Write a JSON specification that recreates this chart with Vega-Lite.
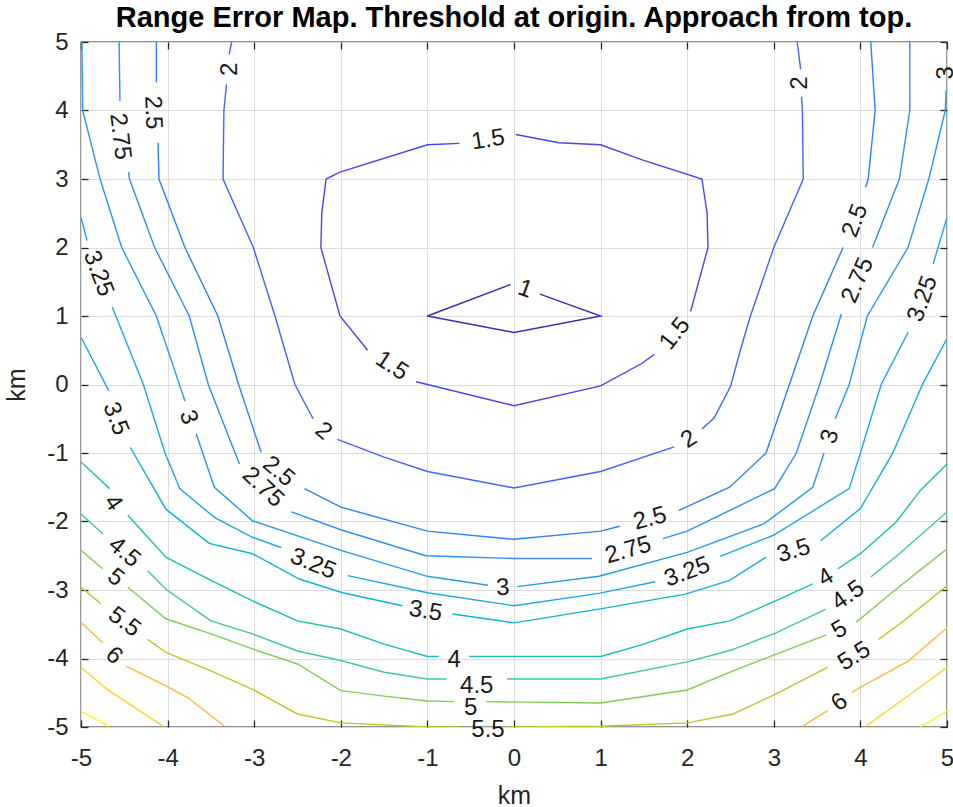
{
  "$schema": "https://vega.github.io/schema/vega-lite/v6.json",
  "width": 866,
  "height": 685,
  "autosize": {"type": "none"},
  "padding": {"left": 81, "top": 42, "right": 6, "bottom": 80},
  "background": "white",
  "title": {"text": "Range Error Map. Threshold at origin. Approach from top.", "font": "Liberation Sans", "fontSize": 29, "fontWeight": "bold", "color": "#000000", "anchor": "middle", "baseline": "alphabetic", "offset": -26},
  "config": {
    "view": {"stroke": "#262626", "strokeWidth": 1.3},
    "axis": {"domain": false, "gridColor": "#DCDCDC", "gridWidth": 1, "tickColor": "#262626", "tickWidth": 1.3, "tickSize": -7, "labelFont": "Liberation Sans", "labelFontSize": 24, "labelColor": "#262626", "titleFont": "Liberation Sans", "titleFontSize": 25, "titleFontWeight": "normal", "titleColor": "#262626", "labelFlush": false, "labelOverlap": false}
  },
  "datasets": {
    "lines": [
      {"c":"1","s":"1a","i":0,"x":-1,"y":1},{"c":"1","s":"1a","i":1,"x":-0.04,"y":1.46},
      {"c":"1","s":"1b","i":0,"x":0.3,"y":1.32},{"c":"1","s":"1b","i":1,"x":1,"y":1},{"c":"1","s":"1b","i":2,"x":0,"y":0.76},{"c":"1","s":"1b","i":3,"x":-1,"y":1},

      {"c":"1.5","s":"15a","i":0,"x":-0.63,"y":3.52},{"c":"1.5","s":"15a","i":1,"x":-1,"y":3.5},{"c":"1.5","s":"15a","i":2,"x":-2.01,"y":3.1},{"c":"1.5","s":"15a","i":3,"x":-2.17,"y":3},{"c":"1.5","s":"15a","i":4,"x":-2.22,"y":2.5},{"c":"1.5","s":"15a","i":5,"x":-2.23,"y":2},{"c":"1.5","s":"15a","i":6,"x":-2.01,"y":1},{"c":"1.5","s":"15a","i":7,"x":-1.69,"y":0.5},
      {"c":"1.5","s":"15b","i":0,"x":-1.13,"y":0.04},{"c":"1.5","s":"15b","i":1,"x":-1,"y":0},{"c":"1.5","s":"15b","i":2,"x":0,"y":-0.31},{"c":"1.5","s":"15b","i":3,"x":1,"y":-0.02},{"c":"1.5","s":"15b","i":4,"x":1.48,"y":0.31},{"c":"1.5","s":"15b","i":5,"x":1.62,"y":0.44},
      {"c":"1.5","s":"15c","i":0,"x":2.04,"y":1.07},{"c":"1.5","s":"15c","i":1,"x":2.24,"y":2},{"c":"1.5","s":"15c","i":2,"x":2.23,"y":2.5},{"c":"1.5","s":"15c","i":3,"x":2.17,"y":3},{"c":"1.5","s":"15c","i":4,"x":1.48,"y":3.28},{"c":"1.5","s":"15c","i":5,"x":1,"y":3.5},{"c":"1.5","s":"15c","i":6,"x":0.52,"y":3.53},{"c":"1.5","s":"15c","i":7,"x":0.02,"y":3.65},

      {"c":"2","s":"2a","i":0,"x":-3.26,"y":5},{"c":"2","s":"2a","i":1,"x":-3.29,"y":4.82},
      {"c":"2","s":"2b","i":0,"x":-3.32,"y":4.38},{"c":"2","s":"2b","i":1,"x":-3.35,"y":4},{"c":"2","s":"2b","i":2,"x":-3.36,"y":3},{"c":"2","s":"2b","i":3,"x":-3.01,"y":2},{"c":"2","s":"2b","i":4,"x":-2.76,"y":1},{"c":"2","s":"2b","i":5,"x":-2.53,"y":0},{"c":"2","s":"2b","i":6,"x":-2.32,"y":-0.5},
      {"c":"2","s":"2c","i":0,"x":-2.04,"y":-0.8},{"c":"2","s":"2c","i":1,"x":-1.5,"y":-1.06},{"c":"2","s":"2c","i":2,"x":-1,"y":-1.27},{"c":"2","s":"2c","i":3,"x":0,"y":-1.51},{"c":"2","s":"2c","i":4,"x":1,"y":-1.27},{"c":"2","s":"2c","i":5,"x":1.85,"y":-0.91},
      {"c":"2","s":"2d","i":0,"x":2.17,"y":-0.65},{"c":"2","s":"2d","i":1,"x":2.31,"y":-0.49},{"c":"2","s":"2d","i":2,"x":2.5,"y":-0.03},{"c":"2","s":"2d","i":3,"x":2.62,"y":0.53},{"c":"2","s":"2d","i":4,"x":2.73,"y":1},{"c":"2","s":"2d","i":5,"x":3,"y":2},{"c":"2","s":"2d","i":6,"x":3.34,"y":3},{"c":"2","s":"2d","i":7,"x":3.33,"y":4},{"c":"2","s":"2d","i":8,"x":3.32,"y":4.2},
      {"c":"2","s":"2e","i":0,"x":3.31,"y":4.6},{"c":"2","s":"2e","i":1,"x":3.27,"y":5},

      {"c":"2.5","s":"25a","i":0,"x":-4.13,"y":5},{"c":"2.5","s":"25a","i":1,"x":-4.13,"y":4.41},
      {"c":"2.5","s":"25b","i":0,"x":-4.11,"y":3.53},{"c":"2.5","s":"25b","i":1,"x":-4.1,"y":3},{"c":"2.5","s":"25b","i":2,"x":-3.8,"y":2},{"c":"2.5","s":"25b","i":3,"x":-3.42,"y":1},{"c":"2.5","s":"25b","i":4,"x":-3.18,"y":0},{"c":"2.5","s":"25b","i":5,"x":-2.92,"y":-0.99},
      {"c":"2.5","s":"25c","i":0,"x":-2.42,"y":-1.52},{"c":"2.5","s":"25c","i":1,"x":-2,"y":-1.79},{"c":"2.5","s":"25c","i":2,"x":-1,"y":-2.14},{"c":"2.5","s":"25c","i":3,"x":0,"y":-2.26},{"c":"2.5","s":"25c","i":4,"x":1,"y":-2.14},{"c":"2.5","s":"25c","i":5,"x":1.22,"y":-2.07},
      {"c":"2.5","s":"25d","i":0,"x":1.9,"y":-1.84},{"c":"2.5","s":"25d","i":1,"x":2.49,"y":-1.5},{"c":"2.5","s":"25d","i":2,"x":2.91,"y":-1},{"c":"2.5","s":"25d","i":3,"x":3.18,"y":0},{"c":"2.5","s":"25d","i":4,"x":3.45,"y":1},{"c":"2.5","s":"25d","i":5,"x":3.8,"y":2},
      {"c":"2.5","s":"25e","i":0,"x":4.06,"y":2.88},{"c":"2.5","s":"25e","i":1,"x":4.09,"y":3},{"c":"2.5","s":"25e","i":2,"x":4.17,"y":4},{"c":"2.5","s":"25e","i":3,"x":4.12,"y":5},

      {"c":"2.75","s":"275a","i":0,"x":-4.56,"y":5},{"c":"2.75","s":"275a","i":1,"x":-4.55,"y":4.14},
      {"c":"2.75","s":"275b","i":0,"x":-4.45,"y":3.1},{"c":"2.75","s":"275b","i":1,"x":-4.44,"y":3},{"c":"2.75","s":"275b","i":2,"x":-4.15,"y":2},{"c":"2.75","s":"275b","i":3,"x":-3.75,"y":1},{"c":"2.75","s":"275b","i":4,"x":-3.53,"y":0},{"c":"2.75","s":"275b","i":5,"x":-3.28,"y":-0.81},{"c":"2.75","s":"275b","i":6,"x":-3.17,"y":-1.16},
      {"c":"2.75","s":"275c","i":0,"x":-2.57,"y":-1.86},{"c":"2.75","s":"275c","i":1,"x":-2,"y":-2.12},{"c":"2.75","s":"275c","i":2,"x":-1.02,"y":-2.5},{"c":"2.75","s":"275c","i":3,"x":0,"y":-2.54},{"c":"2.75","s":"275c","i":4,"x":0.9,"y":-2.54},
      {"c":"2.75","s":"275d","i":0,"x":1.72,"y":-2.25},{"c":"2.75","s":"275d","i":1,"x":2,"y":-2.14},{"c":"2.75","s":"275d","i":2,"x":3.01,"y":-1.52},{"c":"2.75","s":"275d","i":3,"x":3.26,"y":-1},{"c":"2.75","s":"275d","i":4,"x":3.53,"y":0},{"c":"2.75","s":"275d","i":5,"x":3.78,"y":1.03},
      {"c":"2.75","s":"275e","i":0,"x":4.14,"y":2},{"c":"2.75","s":"275e","i":1,"x":4.45,"y":3},{"c":"2.75","s":"275e","i":2,"x":4.57,"y":4},{"c":"2.75","s":"275e","i":3,"x":4.57,"y":5},

      {"c":"3","s":"3a","i":0,"x":-4.99,"y":5},{"c":"3","s":"3a","i":1,"x":-4.98,"y":4},{"c":"3","s":"3a","i":2,"x":-4.78,"y":3},{"c":"3","s":"3a","i":3,"x":-4.53,"y":2},{"c":"3","s":"3a","i":4,"x":-4.13,"y":1},{"c":"3","s":"3a","i":5,"x":-3.93,"y":0.25},{"c":"3","s":"3a","i":6,"x":-3.8,"y":-0.24},
      {"c":"3","s":"3b","i":0,"x":-3.67,"y":-0.72},{"c":"3","s":"3b","i":1,"x":-3.46,"y":-1.5},{"c":"3","s":"3b","i":2,"x":-3.02,"y":-1.99},{"c":"3","s":"3b","i":3,"x":-1.98,"y":-2.43},{"c":"3","s":"3b","i":4,"x":-1,"y":-2.8},{"c":"3","s":"3b","i":5,"x":-0.3,"y":-2.93},
      {"c":"3","s":"3c","i":0,"x":0.04,"y":-2.95},{"c":"3","s":"3c","i":1,"x":0.98,"y":-2.8},{"c":"3","s":"3c","i":2,"x":2,"y":-2.45},{"c":"3","s":"3c","i":3,"x":2.89,"y":-2.03},{"c":"3","s":"3c","i":4,"x":3.45,"y":-1.5},{"c":"3","s":"3c","i":5,"x":3.58,"y":-1},
      {"c":"3","s":"3d","i":0,"x":3.71,"y":-0.5},{"c":"3","s":"3d","i":1,"x":3.87,"y":0},{"c":"3","s":"3d","i":2,"x":4.08,"y":1},{"c":"3","s":"3d","i":3,"x":4.55,"y":2},{"c":"3","s":"3d","i":4,"x":4.79,"y":3},{"c":"3","s":"3d","i":5,"x":4.98,"y":4},{"c":"3","s":"3d","i":6,"x":4.99,"y":4.3},

      {"c":"3.25","s":"325a","i":0,"x":-5,"y":2.44},{"c":"3.25","s":"325a","i":1,"x":-4.93,"y":2.1},
      {"c":"3.25","s":"325b","i":0,"x":-4.64,"y":1.13},{"c":"3.25","s":"325b","i":1,"x":-4.28,"y":0},{"c":"3.25","s":"325b","i":2,"x":-4.03,"y":-1},{"c":"3.25","s":"325b","i":3,"x":-3.86,"y":-1.52},{"c":"3.25","s":"325b","i":4,"x":-3.46,"y":-1.94},{"c":"3.25","s":"325b","i":5,"x":-3.02,"y":-2.23},{"c":"3.25","s":"325b","i":6,"x":-2.69,"y":-2.38},
      {"c":"3.25","s":"325c","i":0,"x":-1.92,"y":-2.79},{"c":"3.25","s":"325c","i":1,"x":-1,"y":-3.04},{"c":"3.25","s":"325c","i":2,"x":0,"y":-3.23},{"c":"3.25","s":"325c","i":3,"x":0.98,"y":-3.05},{"c":"3.25","s":"325c","i":4,"x":1.63,"y":-2.88},
      {"c":"3.25","s":"325d","i":0,"x":2.38,"y":-2.51},{"c":"3.25","s":"325d","i":1,"x":3,"y":-2.2},{"c":"3.25","s":"325d","i":2,"x":3.87,"y":-1.52},{"c":"3.25","s":"325d","i":3,"x":4,"y":-1},{"c":"3.25","s":"325d","i":4,"x":4.24,"y":0},{"c":"3.25","s":"325d","i":5,"x":4.55,"y":0.76},
      {"c":"3.25","s":"325e","i":0,"x":4.84,"y":1.76},{"c":"3.25","s":"325e","i":1,"x":5,"y":2.44},

      {"c":"3.5","s":"35a","i":0,"x":-5,"y":0.69},{"c":"3.5","s":"35a","i":1,"x":-4.68,"y":-0.09},
      {"c":"3.5","s":"35b","i":0,"x":-4.43,"y":-0.92},{"c":"3.5","s":"35b","i":1,"x":-4.02,"y":-1.82},{"c":"3.5","s":"35b","i":2,"x":-3.52,"y":-2.32},{"c":"3.5","s":"35b","i":3,"x":-3.02,"y":-2.47},{"c":"3.5","s":"35b","i":4,"x":-2.48,"y":-2.84},{"c":"3.5","s":"35b","i":5,"x":-1.98,"y":-3.04},{"c":"3.5","s":"35b","i":6,"x":-1.29,"y":-3.23},
      {"c":"3.5","s":"35c","i":0,"x":-0.71,"y":-3.35},{"c":"3.5","s":"35c","i":1,"x":0,"y":-3.48},{"c":"3.5","s":"35c","i":2,"x":0.98,"y":-3.28},{"c":"3.5","s":"35c","i":3,"x":1.98,"y":-3.06},{"c":"3.5","s":"35c","i":4,"x":2.49,"y":-2.86},{"c":"3.5","s":"35c","i":5,"x":2.91,"y":-2.52},
      {"c":"3.5","s":"35d","i":0,"x":3.54,"y":-2.28},{"c":"3.5","s":"35d","i":1,"x":4,"y":-1.81},{"c":"3.5","s":"35d","i":2,"x":4.37,"y":-1.01},{"c":"3.5","s":"35d","i":3,"x":4.72,"y":0.01},{"c":"3.5","s":"35d","i":4,"x":5,"y":0.67},

      {"c":"4","s":"4a","i":0,"x":-5,"y":-1.13},{"c":"4","s":"4a","i":1,"x":-4.67,"y":-1.52},
      {"c":"4","s":"4b","i":0,"x":-4.46,"y":-1.91},{"c":"4","s":"4b","i":1,"x":-4.02,"y":-2.52},{"c":"4","s":"4b","i":2,"x":-3.5,"y":-2.86},{"c":"4","s":"4b","i":3,"x":-3.02,"y":-3.16},{"c":"4","s":"4b","i":4,"x":-2.5,"y":-3.45},{"c":"4","s":"4b","i":5,"x":-2,"y":-3.57},{"c":"4","s":"4b","i":6,"x":-1.5,"y":-3.79},{"c":"4","s":"4b","i":7,"x":-1,"y":-3.97},{"c":"4","s":"4b","i":8,"x":-0.87,"y":-3.97},
      {"c":"4","s":"4c","i":0,"x":-0.52,"y":-3.97},{"c":"4","s":"4c","i":1,"x":0,"y":-3.97},{"c":"4","s":"4c","i":2,"x":1,"y":-3.97},{"c":"4","s":"4c","i":3,"x":1.5,"y":-3.79},{"c":"4","s":"4c","i":4,"x":2,"y":-3.57},{"c":"4","s":"4c","i":5,"x":2.49,"y":-3.45},{"c":"4","s":"4c","i":6,"x":3.02,"y":-3.16},{"c":"4","s":"4c","i":7,"x":3.45,"y":-2.91},
      {"c":"4","s":"4d","i":0,"x":3.74,"y":-2.69},{"c":"4","s":"4d","i":1,"x":4,"y":-2.47},{"c":"4","s":"4d","i":2,"x":4.41,"y":-2.01},{"c":"4","s":"4d","i":3,"x":4.69,"y":-1.55},{"c":"4","s":"4d","i":4,"x":5,"y":-1.16},

      {"c":"4.5","s":"45a","i":0,"x":-5,"y":-1.89},{"c":"4.5","s":"45a","i":1,"x":-4.75,"y":-2.18},
      {"c":"4.5","s":"45b","i":0,"x":-4.23,"y":-2.72},{"c":"4.5","s":"45b","i":1,"x":-4.02,"y":-2.99},{"c":"4.5","s":"45b","i":2,"x":-3.5,"y":-3.45},{"c":"4.5","s":"45b","i":3,"x":-3.02,"y":-3.64},{"c":"4.5","s":"45b","i":4,"x":-2.5,"y":-3.89},{"c":"4.5","s":"45b","i":5,"x":-2,"y":-4.03},{"c":"4.5","s":"45b","i":6,"x":-1.5,"y":-4.2},{"c":"4.5","s":"45b","i":7,"x":-1,"y":-4.3},{"c":"4.5","s":"45b","i":8,"x":-0.78,"y":-4.3},
      {"c":"4.5","s":"45c","i":0,"x":-0.08,"y":-4.3},{"c":"4.5","s":"45c","i":1,"x":1,"y":-4.3},{"c":"4.5","s":"45c","i":2,"x":2,"y":-4.05},{"c":"4.5","s":"45c","i":3,"x":2.5,"y":-3.88},{"c":"4.5","s":"45c","i":4,"x":3.02,"y":-3.63},{"c":"4.5","s":"45c","i":5,"x":3.6,"y":-3.28},
      {"c":"4.5","s":"45d","i":0,"x":4.12,"y":-2.81},{"c":"4.5","s":"45d","i":1,"x":4.45,"y":-2.47},{"c":"4.5","s":"45d","i":2,"x":5,"y":-1.86},

      {"c":"5","s":"5a","i":0,"x":-5,"y":-2.42},{"c":"5","s":"5a","i":1,"x":-4.75,"y":-2.69},
      {"c":"5","s":"5b","i":0,"x":-4.46,"y":-2.96},{"c":"5","s":"5b","i":1,"x":-4.02,"y":-3.42},{"c":"5","s":"5b","i":2,"x":-3.5,"y":-3.64},{"c":"5","s":"5b","i":3,"x":-3.02,"y":-3.86},{"c":"5","s":"5b","i":4,"x":-2.5,"y":-4.08},{"c":"5","s":"5b","i":5,"x":-2,"y":-4.47},{"c":"5","s":"5b","i":6,"x":-1.5,"y":-4.55},{"c":"5","s":"5b","i":7,"x":-1,"y":-4.62},{"c":"5","s":"5b","i":8,"x":-0.69,"y":-4.63},
      {"c":"5","s":"5c","i":0,"x":-0.32,"y":-4.63},{"c":"5","s":"5c","i":1,"x":1,"y":-4.65},{"c":"5","s":"5c","i":2,"x":2,"y":-4.46},{"c":"5","s":"5c","i":3,"x":2.53,"y":-4.18},{"c":"5","s":"5c","i":4,"x":3.02,"y":-3.94},{"c":"5","s":"5c","i":5,"x":3.6,"y":-3.66},
      {"c":"5","s":"5d","i":0,"x":3.95,"y":-3.47},{"c":"5","s":"5d","i":1,"x":4.44,"y":-2.96},{"c":"5","s":"5d","i":2,"x":5,"y":-2.4},

      {"c":"5.5","s":"55a","i":0,"x":-5,"y":-2.96},{"c":"5.5","s":"55a","i":1,"x":-4.77,"y":-3.2},
      {"c":"5.5","s":"55b","i":0,"x":-4.23,"y":-3.72},{"c":"5.5","s":"55b","i":1,"x":-4.02,"y":-3.91},{"c":"5.5","s":"55b","i":2,"x":-3.5,"y":-4.18},{"c":"5.5","s":"55b","i":3,"x":-3.02,"y":-4.45},{"c":"5.5","s":"55b","i":4,"x":-2.5,"y":-4.81},{"c":"5.5","s":"55b","i":5,"x":-2,"y":-4.94},{"c":"5.5","s":"55b","i":6,"x":-1,"y":-5},{"c":"5.5","s":"55b","i":7,"x":-0.62,"y":-5},
      {"c":"5.5","s":"55c","i":0,"x":-0.1,"y":-5},{"c":"5.5","s":"55c","i":1,"x":1,"y":-4.99},{"c":"5.5","s":"55c","i":2,"x":2,"y":-4.94},{"c":"5.5","s":"55c","i":3,"x":2.53,"y":-4.81},{"c":"5.5","s":"55c","i":4,"x":3.02,"y":-4.52},{"c":"5.5","s":"55c","i":5,"x":3.62,"y":-4.13},
      {"c":"5.5","s":"55d","i":0,"x":4.21,"y":-3.72},{"c":"5.5","s":"55d","i":1,"x":4.48,"y":-3.47},{"c":"5.5","s":"55d","i":2,"x":5,"y":-2.94},

      {"c":"6","s":"6a","i":0,"x":-5,"y":-3.47},{"c":"6","s":"6a","i":1,"x":-4.75,"y":-3.77},
      {"c":"6","s":"6b","i":0,"x":-4.48,"y":-4.11},{"c":"6","s":"6b","i":1,"x":-4.02,"y":-4.4},{"c":"6","s":"6b","i":2,"x":-3.77,"y":-4.57},{"c":"6","s":"6b","i":3,"x":-3.34,"y":-4.99},
      {"c":"6","s":"6c","i":0,"x":3.33,"y":-4.99},{"c":"6","s":"6c","i":1,"x":3.62,"y":-4.76},
      {"c":"6","s":"6d","i":0,"x":3.9,"y":-4.5},{"c":"6","s":"6d","i":1,"x":4,"y":-4.42},{"c":"6","s":"6d","i":2,"x":4.56,"y":-4.03},{"c":"6","s":"6d","i":3,"x":5,"y":-3.55},

      {"c":"6.5","s":"65a","i":0,"x":-5,"y":-4.13},{"c":"6.5","s":"65a","i":1,"x":-4.7,"y":-4.45},{"c":"6.5","s":"65a","i":2,"x":-4.05,"y":-4.99},
      {"c":"6.5","s":"65b","i":0,"x":4.06,"y":-4.99},{"c":"6.5","s":"65b","i":1,"x":4.6,"y":-4.5},{"c":"6.5","s":"65b","i":2,"x":5,"y":-4.13},

      {"c":"7","s":"7a","i":0,"x":-5,"y":-4.77},{"c":"7","s":"7a","i":1,"x":-4.68,"y":-4.99},
      {"c":"7","s":"7b","i":0,"x":4.69,"y":-5},{"c":"7","s":"7b","i":1,"x":5,"y":-4.77}
    ],
    "labels": [
      {"t":"1","x":0.13,"y":1.39,"a":20},
      {"t":"1.5","x":-0.3,"y":3.57,"a":-9},
      {"t":"1.5","x":-1.41,"y":0.27,"a":33},
      {"t":"1.5","x":1.86,"y":0.74,"a":-52},
      {"t":"2","x":-3.28,"y":4.6,"a":-90},
      {"t":"2","x":-2.2,"y":-0.68,"a":40},
      {"t":"2","x":2.02,"y":-0.8,"a":-33},
      {"t":"2","x":3.3,"y":4.4,"a":-90},
      {"t":"2.5","x":-4.17,"y":3.97,"a":88},
      {"t":"2.5","x":-2.72,"y":-1.27,"a":40},
      {"t":"2.5","x":1.57,"y":-1.96,"a":-15},
      {"t":"2.5","x":3.94,"y":2.39,"a":-69},
      {"t":"2.75","x":-4.55,"y":3.62,"a":83},
      {"t":"2.75","x":-2.9,"y":-1.5,"a":43},
      {"t":"2.75","x":1.32,"y":-2.42,"a":-16},
      {"t":"2.75","x":3.97,"y":1.52,"a":-66},
      {"t":"3","x":-3.76,"y":-0.48,"a":71},
      {"t":"3","x":-0.13,"y":-2.97,"a":-3},
      {"t":"3","x":3.65,"y":-0.76,"a":-72},
      {"t":"3","x":4.99,"y":4.55,"a":-90},
      {"t":"3.25","x":-4.8,"y":1.62,"a":69},
      {"t":"3.25","x":-2.32,"y":-2.62,"a":22},
      {"t":"3.25","x":2.0,"y":-2.74,"a":-20},
      {"t":"3.25","x":4.72,"y":1.25,"a":-70},
      {"t":"3.5","x":-4.6,"y":-0.5,"a":69},
      {"t":"3.5","x":-1.02,"y":-3.31,"a":9},
      {"t":"3.5","x":3.23,"y":-2.43,"a":-17},
      {"t":"4","x":-4.63,"y":-1.73,"a":55},
      {"t":"4","x":-0.69,"y":-4.02,"a":0},
      {"t":"4","x":3.6,"y":-2.82,"a":-31},
      {"t":"4.5","x":-4.5,"y":-2.45,"a":40},
      {"t":"4.5","x":-0.43,"y":-4.4,"a":0},
      {"t":"4.5","x":3.86,"y":-3.08,"a":-35},
      {"t":"5","x":-4.6,"y":-2.82,"a":38},
      {"t":"5","x":-0.5,"y":-4.72,"a":0},
      {"t":"5","x":3.76,"y":-3.58,"a":-30},
      {"t":"5.5","x":-4.5,"y":-3.47,"a":37},
      {"t":"5.5","x":-0.3,"y":-5.04,"a":0},
      {"t":"5.5","x":3.93,"y":-3.97,"a":-32},
      {"t":"6","x":-4.62,"y":-3.96,"a":42},
      {"t":"6","x":3.76,"y":-4.64,"a":-37}
    ]
  },
  "resolve": {"axis": {"x": "independent", "y": "independent"}},
  "layer": [
    {
      "data": {"name": "lines"},
      "mark": {"type": "line", "strokeWidth": 1.4, "clip": true},
      "encoding": {
        "x": {"field": "x", "type": "quantitative", "scale": {"domain": [-5, 5], "nice": false, "zero": false},
              "axis": {"values": [-5,-4,-3,-2,-1,0,1,2,3,4,5], "grid": true, "labelExpr": "'' + datum.value", "labelPadding": 26, "title": "km", "titlePadding": 13}},
        "y": {"field": "y", "type": "quantitative", "scale": {"domain": [-5, 5], "nice": false, "zero": false},
              "axis": {"values": [-5,-4,-3,-2,-1,0,1,2,3,4,5], "grid": true, "labelExpr": "'' + datum.value", "labelPadding": 20, "title": "km", "titlePadding": 17}},
        "color": {"field": "c", "type": "nominal", "legend": null,
                  "scale": {"domain": ["1","1.5","2","2.5","2.75","3","3.25","3.5","4","4.5","5","5.5","6","6.5","7"],
                            "range": ["#3E2BB5","#4747EB","#4563FD","#2F81FA","#2C8FF1","#259BE7","#1EA7E1","#12B1D6","#19BFB6","#3FCA8E","#80CC59","#C5C22A","#F8BA3D","#F9D62D","#F7F51B"]}},
        "detail": {"field": "s", "type": "nominal"},
        "order": {"field": "i", "type": "quantitative"}
      }
    },
    {
      "data": {"name": "labels"},
      "mark": {"type": "text", "font": "Liberation Sans", "fontSize": 24, "color": "#1A1A1A", "align": "center", "baseline": "middle"},
      "encoding": {
        "x": {"field": "x", "type": "quantitative", "scale": {"domain": [-5, 5], "nice": false, "zero": false},
              "axis": {"orient": "top", "values": [-5,-4,-3,-2,-1,0,1,2,3,4,5], "grid": false, "labels": false, "title": null}},
        "y": {"field": "y", "type": "quantitative", "scale": {"domain": [-5, 5], "nice": false, "zero": false},
              "axis": {"orient": "right", "values": [-5,-4,-3,-2,-1,0,1,2,3,4,5], "grid": false, "labels": false, "title": null}},
        "text": {"field": "t", "type": "nominal"},
        "angle": {"field": "a", "type": "quantitative", "scale": null}
      }
    }
  ]
}
